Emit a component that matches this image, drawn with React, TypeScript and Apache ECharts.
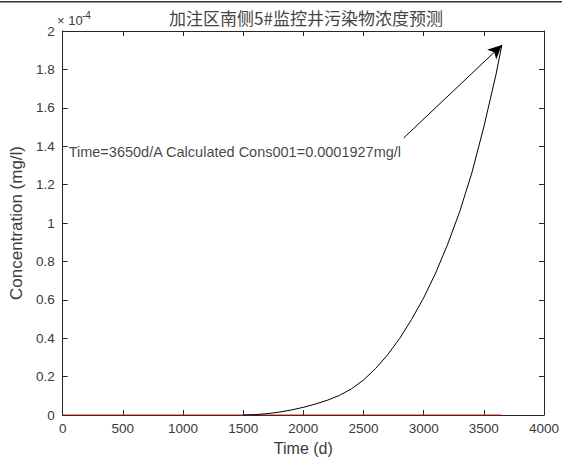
import React, { useEffect, useRef } from "react";
import * as echarts from "echarts";

const titleText = "加注区南侧5#监控井污染物浓度预测";
const xTicks = [0, 500, 1000, 1500, 2000, 2500, 3000, 3500, 4000];
const yTicks = [0, 0.2, 0.4, 0.6, 0.8, 1, 1.2, 1.4, 1.6, 1.8, 2];

// Concentration curve (mg/l) vs time (d)
const timeDays = [1500, 1600, 1700, 1800, 1900, 2000, 2100, 2200, 2300, 2400, 2500, 2600, 2700, 2800, 2900, 3000, 3100, 3200, 3300, 3400, 3500, 3600, 3650];
const consValues = [0, 0.002e-4, 0.007e-4, 0.015e-4, 0.026e-4, 0.04e-4, 0.057e-4, 0.077e-4, 0.102e-4, 0.136e-4, 0.182e-4, 0.242e-4, 0.313e-4, 0.398e-4, 0.498e-4, 0.61e-4, 0.74e-4, 0.89e-4, 1.06e-4, 1.26e-4, 1.5e-4, 1.77e-4, 1.927e-4];

// Zero baseline series (red)
const baseTime = [0, 3650];
const baseValues = [0, 0];

// Annotation
const annotText = "Time=3650d/A Calculated Cons001=0.0001927mg/l";
const annotAnchor = [50, 1.372e-4];
const arrowStart = [2834, 1.443e-4];
const arrowEnd = [3650, 1.927e-4];

const fmtY = (v: number) => String(parseFloat((v * 1e4).toFixed(1)));
const fmtX = (v: number) => String(v);

export default function App() {
  const ref = useRef<HTMLDivElement>(null);
  useEffect(() => {
    if (!ref.current) return;
    const chart = echarts.init(ref.current, undefined, { renderer: "svg" });
    const font = "'Liberation Sans', Arial, sans-serif";
    const textColor = "#3a3a3a";
    const axisColor = "#262626";
    const common = {
      type: "value",
      axisLine: { show: true, onZero: false, lineStyle: { color: axisColor, width: 1 } },
      axisTick: { show: true, inside: true, length: 5, lineStyle: { color: axisColor } },
      splitLine: { show: false },
    };
    chart.setOption({
      animation: false,
      backgroundColor: "#fff",
      textStyle: { fontFamily: font },
      title: {
        text: titleText,
        left: 301,
        textAlign: "center",
        top: 4,
        textStyle: { fontFamily: "'Noto Sans CJK SC', sans-serif", fontSize: 17, fontWeight: "normal", color: "#444" },
      },
      grid: { left: 57, right: 18, top: 31, bottom: 46, containLabel: false },
      xAxis: [
        {
          ...common,
          position: "bottom",
          min: 0,
          max: 4000,
          interval: 500,
          name: "Time (d)",
          nameLocation: "middle",
          nameGap: 25,
          nameTextStyle: { fontSize: 16, color: textColor, fontFamily: font },
          axisLabel: { fontSize: 13.5, color: textColor, margin: 6, fontFamily: font, formatter: fmtX },
        },
        {
          ...common,
          position: "top",
          min: 0,
          max: 4000,
          interval: 500,
          axisLabel: { show: false },
        },
      ],
      yAxis: [
        {
          ...common,
          position: "left",
          min: 0,
          max: 2e-4,
          interval: 0.2e-4,
          name: "Concentration (mg/l)",
          nameLocation: "middle",
          nameGap: 31,
          nameTextStyle: { fontSize: 17, color: textColor, fontFamily: font },
          axisLabel: { fontSize: 13.5, color: textColor, margin: 8, fontFamily: font, formatter: fmtY },
        },
        {
          ...common,
          position: "right",
          min: 0,
          max: 2e-4,
          interval: 0.2e-4,
          axisLabel: { show: false },
        },
      ],
      graphic: [
        { type: "rect", shape: { x: 0, y: 1, width: 562, height: 1.5 }, style: { fill: "#333" } },
        { type: "text", x: 57, y: 14, style: { text: "× 10", fontSize: 13, fill: textColor, fontFamily: font } },
        { type: "text", x: 82, y: 10, style: { text: "-4", fontSize: 10, fill: textColor, fontFamily: font } },
      ],
      series: [
        {
          type: "line",
          data: baseTime.map((t, i) => [t, baseValues[i]]),
          showSymbol: false,
          lineStyle: { color: "#e01818", width: 1 },
          silent: true,
          z: 2,
        },
        {
          type: "line",
          data: timeDays.map((t, i) => [t, consValues[i]]),
          showSymbol: false,
          smooth: false,
          lineStyle: { color: "#000", width: 1 },
          silent: true,
          z: 3,
        },
        {
          type: "scatter",
          data: [annotAnchor],
          symbolSize: 0,
          silent: true,
          label: {
            show: true,
            position: "right",
            distance: 0,
            formatter: annotText,
            fontSize: 14.5,
            color: "#111",
            fontFamily: font,
          },
          markLine: {
            silent: true,
            symbol: ["none", "arrow"],
            symbolSize: [10, 14],
            label: { show: false },
            lineStyle: { color: "#000", width: 1, type: "solid" },
            data: [[{ coord: arrowStart }, { coord: arrowEnd }]],
          },
          z: 4,
        },
      ],
    });
    return () => chart.dispose();
  }, []);
  return (
    <div
      ref={ref}
      style={{ position: "fixed", left: 0, top: 0, width: 562, height: 461, background: "#fff" }}
    />
  );
}
